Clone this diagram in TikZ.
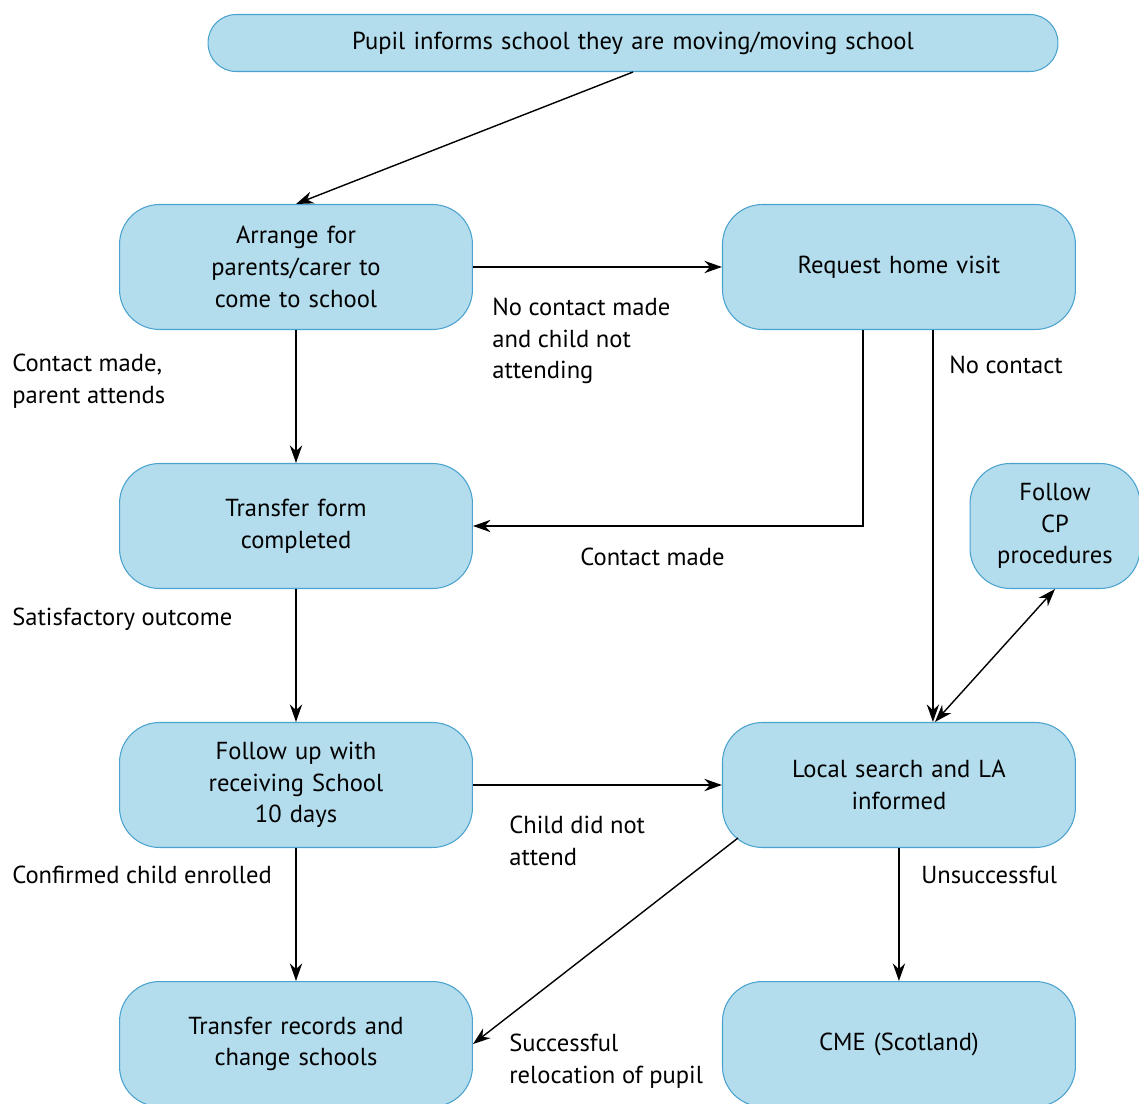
\documentclass[tikz,border=0pt]{standalone}
\usepackage{fontspec}
\setmainfont{PT Sans}
\usetikzlibrary{arrows.meta, positioning, shapes, calc}

\definecolor{boxfill}{HTML}{B3DCEC}
\definecolor{boxline}{HTML}{4AA3CF}

\tikzset{
    flowbox/.style={rectangle, rounded corners=0.8cm, draw=boxline, fill=boxfill, line width=0.6pt,
        align=center, minimum width=7.06cm, minimum height=2.5cm, text width=6.6cm},
    note/.style={anchor=west, align=left, inner sep=0pt},
    link/.style={-{Stealth[length=10pt, width=7pt]}, line width=0.8pt},
}

\begin{document}
\begin{tikzpicture}[x=0.02cm, y=-0.02cm, node distance=2.66cm and 4.98cm,
    font=\fontsize{14}{18}\selectfont]
    \useasboundingbox (0,0) rectangle (1139,1104);

    \node (pupil) [flowbox, rounded corners=0.56cm, minimum width=17cm, minimum height=1.14cm, text width=16cm] at (633,43)
        {Pupil informs school they are moving/moving school};
    \node (arrange) [flowbox] at (296,267) {Arrange for\\parents/carer to\\come to school};
    \node (visit) [flowbox, right=of arrange] {Request home visit};
    \node (form) [flowbox, below=of arrange] {Transfer form\\completed};
    \node (cp) [flowbox, minimum width=3.4cm, text width=3cm] at (1055,526) {Follow\\CP\\procedures};
    \node (followup) [flowbox, below=of form] {Follow up with\\receiving School\\10 days};
    \node (search) [flowbox, right=of followup] {Local search and LA\\informed};
    \node (records) [flowbox, below=of followup] {Transfer records and\\change schools};
    \node (cme) [flowbox, right=of records] {CME (Scotland)};

    \draw[link] (pupil.south) -- (arrange.north);
    \draw[link] (arrange.east) -- (visit.west);
    \draw[link] (arrange.south) -- (form.north);
    \draw[link] ([xshift=-0.72cm]visit.south) |- (form.east);
    \draw[link] ([xshift=0.68cm]visit.south) -- ([xshift=0.68cm]search.north);
    \draw[link, {Stealth[length=10pt, width=7pt]}-{Stealth[length=10pt, width=7pt]}] (cp.south) -- ([xshift=0.72cm]search.north);
    \draw[link] (form.south) -- (followup.north);
    \draw[link] (followup.east) -- (search.west);
    \draw[link] (followup.south) -- (records.north);
    \draw[link] ([shift={(0.32cm,0.2cm)}]search.south west) -- (records.east);
    \draw[link] (search.south) -- (cme.north);

    \node (l1) [note] at (12,381) {Contact made,\\parent attends};
    \node (l2) [note] at (492,341) {No contact made\\and child not\\attending};
    \node (l3) [note] at (949,365) {No contact};
    \node (l4) [note] at (580,557) {Contact made};
    \node (l5) [note] at (12,619) {Satisfactory outcome};
    \node (l6) [note] at (509,841) {Child did not\\attend};
    \node (l7) [note] at (12,875) {Confirmed child enrolled};
    \node (l8) [note] at (921,875) {Unsuccessful};
    \node (l9) [note] at (509,1061) {Successful\\relocation of pupil};
\end{tikzpicture}
\end{document}
